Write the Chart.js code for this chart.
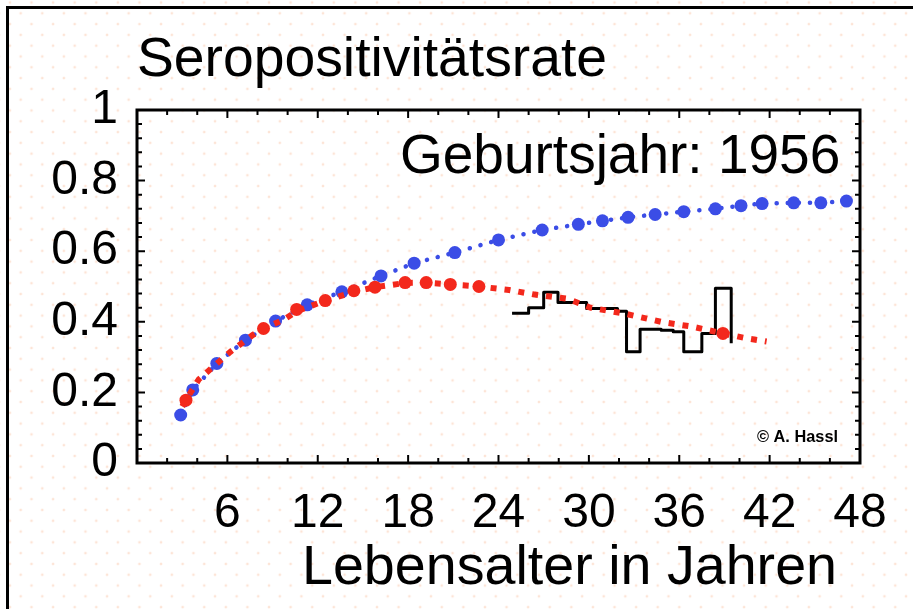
<!DOCTYPE html>
<html>
<head>
<meta charset="utf-8">
<script src="https://cdn.jsdelivr.net/npm/chart.js@4.4.0/dist/chart.umd.min.js"></script>
<style>
  html, body { margin: 0; padding: 0; }
  body {
    width: 913px; height: 609px; overflow: hidden;
    background-color: #fff;
    background-image:
      radial-gradient(circle, #fde4d6 1px, rgba(255,255,255,0) 1.7px),
      radial-gradient(circle, #fde4d6 1px, rgba(255,255,255,0) 1.7px);
    background-size: 21.6px 21.6px;
    background-position: 9.9px 2.5px, 20.7px 13.3px;
  }
  canvas { display: block; }
</style>
</head>
<body>
<canvas id="sero" width="913" height="609"></canvas>
<script>
// blue model curve (large dots)
var blueAges = [2.9, 3.7, 5.3, 7.2, 9.2, 11.3, 13.6, 16.2, 18.4, 21.1, 24.0, 26.9, 29.3, 30.9, 32.6, 34.4, 36.3, 38.4, 40.1, 41.5, 43.6, 45.4, 47.1];
var blueRate = [0.136, 0.207, 0.282, 0.348, 0.402, 0.448, 0.485, 0.530, 0.566, 0.596, 0.632, 0.660, 0.676, 0.686, 0.696, 0.704, 0.712, 0.720, 0.729, 0.735, 0.737, 0.737, 0.742];

// red model curve (square dashes)
var redAges = [3.0, 3.25, 4.1, 4.85, 6.2, 7.7, 8.4, 9.7, 10.6, 12.5, 14.4, 15.8, 17.8, 19.2, 20.8, 22.7, 24.7, 26.3, 28.6, 30.1, 32.5, 34.9, 36.9, 38.9, 40.5, 41.8];
var redRate = [0.160, 0.178, 0.237, 0.265, 0.315, 0.363, 0.381, 0.405, 0.430, 0.460, 0.485, 0.498, 0.510, 0.511, 0.506, 0.500, 0.490, 0.478, 0.465, 0.440, 0.422, 0.399, 0.386, 0.367, 0.353, 0.344];

// red large dots
var redDotAges = [3.25, 8.4, 10.6, 12.5, 14.4, 15.8, 17.8, 19.2, 20.8, 22.7, 38.9];
var redDotRate = [0.178, 0.381, 0.435, 0.460, 0.488, 0.498, 0.511, 0.511, 0.506, 0.500, 0.367];

// observed rates, each value holds until the next age
var obsAges = [24.9, 26.0, 27.0, 27.95, 29.85, 31.9, 32.5, 33.4, 34.8, 35.6, 36.3, 37.5, 38.4, 39.45];
var obsRate = [0.424, 0.440, 0.484, 0.455, 0.438, 0.430, 0.315, 0.379, 0.376, 0.372, 0.315, 0.367, 0.495, 0.339];

var xTickLabels = [6, 12, 18, 24, 30, 36, 42, 48];

function pts(xs, ys) {
  return xs.map(function(x, i) { return { x: x, y: ys[i] } })
}

var FONT = '"Liberation Sans", Arial, Helvetica, sans-serif';

// frame with inward ticks, extra texts
var decor = {
  id: 'decor',
  beforeDraw: function(chart) {
    var ctx = chart.ctx
    ctx.save()
    ctx.fillStyle = '#000'
    ctx.fillRect(6, 6, 913 - 6, 3)
    ctx.fillRect(6, 6, 3, 609 - 6)
    ctx.restore()
  },
  afterDraw: function(chart) {
    var ctx = chart.ctx, a = chart.chartArea
    var xs = chart.scales.x, ys = chart.scales.y
    ctx.save()
    ctx.strokeStyle = '#000'
    ctx.lineWidth = 3
    ctx.strokeRect(a.left, a.top, a.right - a.left, a.bottom - a.top)

    ctx.lineWidth = 2
    ctx.beginPath()
    for (var age = 2; age < 48; age += 2) {
      var px = xs.getPixelForValue(age)
      var len = (age % 6 === 0) ? 8 : 5
      ctx.moveTo(px, a.bottom); ctx.lineTo(px, a.bottom - len)
      ctx.moveTo(px, a.top); ctx.lineTo(px, a.top + len)
    }
    for (var k = 1; k < 25; k++) {
      var py = ys.getPixelForValue(k * 0.04)
      var l2 = (k % 5 === 0) ? 8 : 5
      ctx.moveTo(a.left, py); ctx.lineTo(a.left + l2, py)
      ctx.moveTo(a.right, py); ctx.lineTo(a.right - l2, py)
    }
    ctx.stroke()

    ctx.fillStyle = '#000'
    ctx.textAlign = 'left'
    ctx.textBaseline = 'alphabetic'
    ctx.font = '56px ' + FONT
    ctx.fillText('Seropositivitätsrate', 137, 76, 470)
    ctx.font = '55px ' + FONT
    ctx.fillText('Geburtsjahr: 1956', 400, 173, 443)
    ctx.font = '56px ' + FONT
    ctx.fillText('Lebensalter in Jahren', 302, 584, 535)
    ctx.font = 'bold 17px ' + FONT
    ctx.fillText('\u00a9 A. Hassl', 757, 442, 81)
    ctx.restore()
  }
}

new Chart(document.getElementById('sero'), {
  type: 'scatter',
  data: {
    datasets: [
      {
        label: 'rot Punkte',
        data: pts(redDotAges, redDotRate),
        showLine: false,
        pointRadius: 6.5,
        pointBackgroundColor: '#f3281c',
        pointBorderWidth: 0
      },
      {
        label: 'rot',
        data: pts(redAges, redRate),
        showLine: true,
        borderColor: '#f3281c',
        borderWidth: 6,
        borderDash: [6, 8],
        borderCapStyle: 'butt',
        pointRadius: 0
      },
      {
        label: 'blau',
        data: pts(blueAges, blueRate),
        showLine: true,
        borderColor: '#3b4de6',
        borderWidth: 4.5,
        borderDash: [0.1, 11],
        borderCapStyle: 'round',
        pointRadius: 6.5,
        pointBackgroundColor: '#3b4de6',
        pointBorderWidth: 0
      },
      {
        label: 'beobachtet',
        data: pts(obsAges, obsRate),
        showLine: true,
        stepped: 'before',
        borderColor: '#000',
        borderWidth: 3,
        borderJoinStyle: 'round',
        pointRadius: 0
      }
    ]
  },
  options: {
    responsive: false,
    animation: false,
    layout: { padding: { left: 0, top: 110, right: 53, bottom: 0 } },
    plugins: { legend: { display: false }, tooltip: { enabled: false } },
    scales: {
      x: {
        type: 'linear', min: 0, max: 48,
        grid: { display: false, drawTicks: false },
        border: { display: false },
        afterBuildTicks: function(s) { s.ticks = xTickLabels.map(function(v) { return { value: v } }) },
        ticks: { color: '#000', padding: 22, maxRotation: 0, font: { family: FONT, size: 48 } },
        afterFit: function(s) { s.height = 146 }
      },
      y: {
        min: 0, max: 1,
        grid: { display: false, drawTicks: false },
        border: { display: false },
        ticks: {
          stepSize: 0.2, color: '#000', padding: 19, font: { family: FONT, size: 48 },
          callback: function(v) { return String(Math.round(v * 10) / 10) }
        },
        afterFit: function(s) { s.width = 137 }
      }
    }
  },
  plugins: [decor]
})
</script>
</body>
</html>
